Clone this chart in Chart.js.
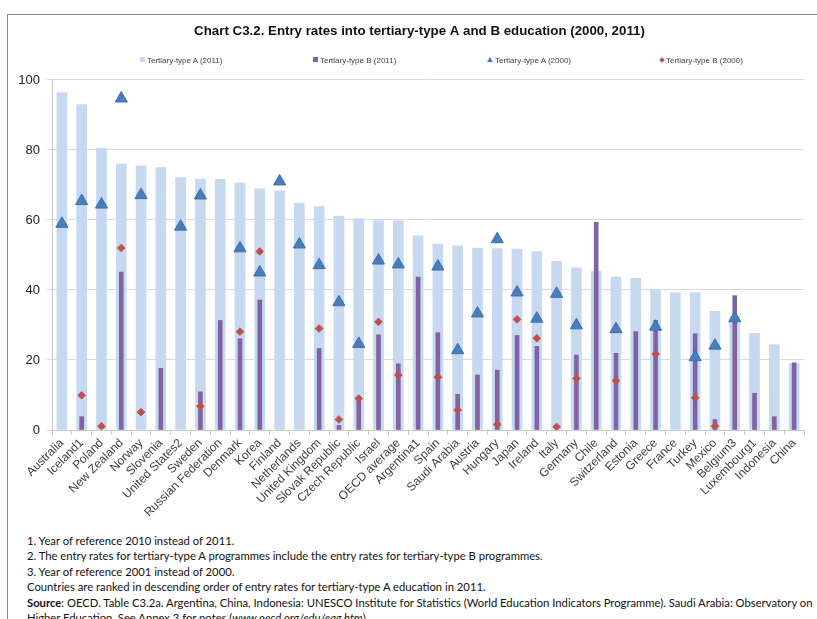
<!DOCTYPE html>
<html>
<head>
<meta charset="utf-8">
<script src="https://cdn.jsdelivr.net/npm/chart.js@4/dist/chart.umd.min.js"></script>
<style>
  html, body { margin: 0; padding: 0; background: #fff; width: 817px; height: 619px; overflow: hidden; }
  .frame { position: absolute; left: 7px; top: 14px; width: 900px; height: 700px; border-left: 1px solid #8c8c8c; border-top: 1px solid #8c8c8c; }
  #wrap { position: absolute; left: 0; top: 0; width: 817px; height: 530px; }
  #legend { position: absolute; left: 0; top: 55px; width: 817px; height: 14px; font: 8px "Liberation Sans", Arial, sans-serif; color: #404040; }
  #legend .item { position: absolute; top: 0; white-space: nowrap; line-height: 12px; }
  #legend .mk { display: inline-block; vertical-align: middle; margin-right: 2px; position: relative; top: -1px; }
  .notes { position: absolute; left: 27px; top: 533px; font: 11.25px Lato, "Open Sans", sans-serif; color: #111; line-height: 15.4px; white-space: nowrap; }
</style>
</head>
<body>
<div class="frame"></div>
<div id="wrap"><canvas id="chart" width="817" height="530"></canvas></div>
<div id="legend"></div>
<div class="notes">
  <div>1. Year of reference 2010 instead of 2011.</div>
  <div>2. The entry rates for tertiary-type A programmes include the entry rates for tertiary-type B programmes.</div>
  <div>3. Year of reference 2001 instead of 2000.</div>
  <div>Countries are ranked in descending order of entry rates for tertiary-type A education in 2011.</div>
  <div><b>Source</b>: OECD. Table C3.2a. Argentina, China, Indonesia: UNESCO Institute for Statistics (World Education Indicators Programme). Saudi Arabia: Observatory on</div>
  <div>Higher Education. See Annex 3 for notes (<i>www.oecd.org/edu/eag.htm</i>).</div>
</div>
<script>
// categories, ranked by tertiary-type A 2011
const countries = ['Australia', 'Iceland1', 'Poland', 'New Zealand', 'Norway', 'Slovenia', 'United States2', 'Sweden',
  'Russian Federation', 'Denmark', 'Korea', 'Finland', 'Netherlands', 'United Kingdom', 'Slovak Republic',
  'Czech Republic', 'Israel', 'OECD average', 'Argentina1', 'Spain', 'Saudi Arabia', 'Austria', 'Hungary', 'Japan',
  'Ireland', 'Italy', 'Germany', 'Chile', 'Switzerland', 'Estonia', 'Greece', 'France', 'Turkey', 'Mexico',
  'Belgium3', 'Luxembourg1', 'Indonesia', 'China'];

const typeA2011 = [96.4, 93.0, 80.5, 76.0, 75.5, 75.0, 72.1, 71.7, 71.6, 70.6, 68.9, 68.3, 64.8, 63.8, 61.1,
  60.4, 59.8, 59.8, 55.5, 53.1, 52.6, 52.0, 51.8, 51.7, 51.0, 48.2, 46.3, 45.3, 43.7, 43.3, 40.0, 39.2, 39.2,
  33.9, 32.5, 27.6, 24.3, 19.0];

const typeB2011 = [null, 3.8, null, 45.1, null, 17.6, null, 10.9, 31.3, 26.1, 37.1, null, null, 23.3, 1.3,
  9.0, 27.2, 18.9, 43.7, 27.8, 10.2, 15.7, 17.1, 27.0, 23.9, null, 21.4, 59.3, 21.9, 28.1, 31.3, null, 27.5,
  3.0, 38.4, 10.5, 3.8, 19.2];

const typeA2000 = [58.9, 65.4, 64.4, 94.7, 67.1, null, 58.1, 67.0, null, 51.9, 45.0, 71.0, 53.0, 47.1, 36.5,
  24.6, 48.4, 47.3, null, 46.7, 22.8, 33.3, 54.5, 39.3, 31.8, 38.9, 29.9, null, 28.8, null, 29.5, null, 20.8,
  24.1, 31.9, null, null, null];

const typeB2000 = [null, 9.9, 1.1, 52.0, 5.1, null, null, 6.8, null, 28.1, 51.0, null, null, 29.0, 3.0,
  9.0, 30.9, 15.7, null, 15.1, 5.7, null, 1.6, 31.6, 26.2, 0.9, 14.7, null, 14.1, null, 21.7, null, 9.2,
  1.1, null, null, null, null];

const yTicks = [0, 20, 40, 60, 80, 100];

// the title sits a little right of the canvas centre in the original
const titleShift = {
  id: 'titleShift',
  afterLayout(chart) {
    const t = chart.titleBlock;
    if (!t) return;
    const d = 419.5 - (t.left + t.right) / 2;
    t.left += d; t.right += d;
  }
};

const chart = new Chart(document.getElementById('chart'), {
  type: 'bar',
  data: {
    labels: countries,
    datasets: [
      { label: 'Tertiary-type A (2011)', data: typeA2011, backgroundColor: '#c6d9f1', barThickness: 10, grouped: false, order: 4 },
      { label: 'Tertiary-type B (2011)', data: typeB2011, backgroundColor: '#8064a2', barThickness: 4, grouped: false, order: 3 },
      { type: 'line', label: 'Tertiary-type A (2000)', data: typeA2000, showLine: false, pointStyle: 'triangle',
        pointRadius: 7, pointHoverRadius: 7, backgroundColor: '#4a7ebb', borderColor: '#3d6fae', borderWidth: 1, order: 2 },
      { type: 'line', label: 'Tertiary-type B (2000)', data: typeB2000, showLine: false, pointStyle: 'rectRot',
        pointRadius: 3.8, pointHoverRadius: 3.8, backgroundColor: '#c0504d', borderColor: '#c0504d', borderWidth: 1, order: 1 }
    ]
  },
  options: {
    responsive: false,
    animation: false,
    layout: { padding: { left: 14, right: 13, top: 14, bottom: 0 } },
    plugins: {
      legend: { display: false },
      tooltip: { enabled: false },
      title: {
        display: true,
        text: 'Chart C3.2. Entry rates into tertiary-type A and B education (2000, 2011)',
        color: '#111',
        font: { family: '"Liberation Sans", Arial', size: 13.3, weight: 'bold', lineHeight: 1.2 },
        padding: { top: 9, bottom: 41 }
      }
    },
    scales: {
      x: {
        grid: { display: true, drawOnChartArea: false, drawTicks: true, tickLength: 5, color: '#c8c8c8' },
        border: { color: '#c8c8c8' },
        ticks: { autoSkip: false, minRotation: 45, maxRotation: 45, padding: 1, color: '#404040',
          font: { family: '"Liberation Sans", Arial', size: 12 } },
        afterFit: s => { s.height = 100; }
      },
      y: {
        min: 0, max: 100,
        afterBuildTicks: s => { s.ticks = yTicks.map(v => ({ value: v })); },
        grid: { color: '#d9d9d9', tickLength: 5 },
        border: { color: '#c8c8c8' },
        ticks: { padding: 7, color: '#222', font: { family: '"Liberation Sans", Arial', size: 13 } },
        afterFit: s => { s.width = 38; }
      }
    }
  },
  plugins: [titleShift]
});

// legend built from the chart's own legend items, in dataset order
const legendLeft = [140, 313, 487, 660];
const leg = document.getElementById('legend');
Chart.defaults.plugins.legend.labels.generateLabels(chart)
  .sort((a, b) => a.datasetIndex - b.datasetIndex)
  .forEach((it, i) => {
    const ds = chart.data.datasets[it.datasetIndex];
    let mk;
    if (ds.pointStyle === 'triangle') {
      mk = `<span class="mk" style="width:0;height:0;border-left:3px solid transparent;border-right:3px solid transparent;border-bottom:5px solid ${ds.backgroundColor}"></span>`;
    } else if (ds.pointStyle === 'rectRot') {
      mk = `<span class="mk" style="width:4px;height:4px;background:${ds.backgroundColor};transform:rotate(45deg)"></span>`;
    } else {
      mk = `<span class="mk" style="width:5px;height:5px;background:${ds.backgroundColor}"></span>`;
    }
    leg.insertAdjacentHTML('beforeend', `<span class="item" style="left:${legendLeft[i]}px">${mk}${it.text}</span>`);
  });
</script>
</body>
</html>
